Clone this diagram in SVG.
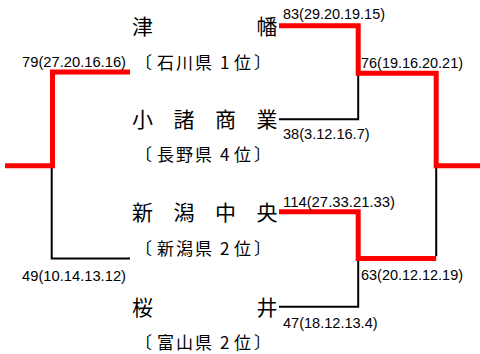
<svg xmlns="http://www.w3.org/2000/svg" width="480" height="354" viewBox="0 0 480 354">
<style>
.name{font-family:"Noto Sans CJK JP","Noto Sans CJK SC",sans-serif;font-size:21px;fill:#000}
.pref{font-family:"Noto Sans CJK JP","Noto Sans CJK SC",sans-serif;font-size:17px;fill:#000}
.score{font-family:"Liberation Sans",Arial,sans-serif;font-size:15px;fill:#000}
.win{fill:none;stroke:#ff0000;stroke-width:5;stroke-linejoin:miter;stroke-linecap:butt}
.lose{fill:none;stroke:#000;stroke-width:2;stroke-linejoin:miter;stroke-linecap:butt}
</style>
<rect width="480" height="354" fill="#fff"/>
<g id="connectors">
<path class="lose" d="M51.7,168 V258.5 H130"/>
<path class="lose" d="M279,119.3 H358.2 V75"/>
<path class="lose" d="M436.2,168 V256"/>
<path class="lose" d="M279,306.7 H358.2 V261"/>
<path class="win" d="M5,165.8 H52.5 V72 H130"/>
<path class="win" d="M279,25.8 H358.2 V73.2 H436.2 V165.8 H480"/>
<path class="win" d="M279,211.8 H358.2 V258.5 H436.2"/>
</g>
<g id="team-tsubata">
<text class="name" y="34" x="132 256.5">津幡</text>
<text class="pref" y="69" x="135 152 157 176 195 213 220 234 251 254">〔 石川県 1位 〕</text>
</g>
<g id="team-komoro">
<text class="name" y="127" x="132 173.5 215 256.5">小諸商業</text>
<text class="pref" y="161" x="135 152 157 176 195 213 220 234 251 254">〔 長野県 4位 〕</text>
</g>
<g id="team-niigata">
<text class="name" y="220" x="132 173.5 215 256.5">新潟中央</text>
<text class="pref" y="255" x="135 152 157 176 195 213 220 234 251 254">〔 新潟県 2位 〕</text>
</g>
<g id="team-sakurai">
<text class="name" y="315" x="132 256.5">桜井</text>
<text class="pref" y="349" x="135 152 157 176 195 213 220 234 251 254">〔 富山県 2位 〕</text>
</g>
<g id="scores">
<text class="score" x="22" y="67" textLength="104" lengthAdjust="spacingAndGlyphs">79(27.20.16.16)</text>
<text class="score" x="283" y="19" textLength="102" lengthAdjust="spacingAndGlyphs">83(29.20.19.15)</text>
<text class="score" x="361" y="68" textLength="102" lengthAdjust="spacingAndGlyphs">76(19.16.20.21)</text>
<text class="score" x="283" y="139" textLength="86.6" lengthAdjust="spacingAndGlyphs">38(3.12.16.7)</text>
<text class="score" x="22" y="281" textLength="104" lengthAdjust="spacingAndGlyphs">49(10.14.13.12)</text>
<text class="score" x="283" y="207" textLength="112" lengthAdjust="spacingAndGlyphs">114(27.33.21.33)</text>
<text class="score" x="361" y="280" textLength="102" lengthAdjust="spacingAndGlyphs">63(20.12.12.19)</text>
<text class="score" x="283" y="328" textLength="94.6" lengthAdjust="spacingAndGlyphs">47(18.12.13.4)</text>
</g>
</svg>
